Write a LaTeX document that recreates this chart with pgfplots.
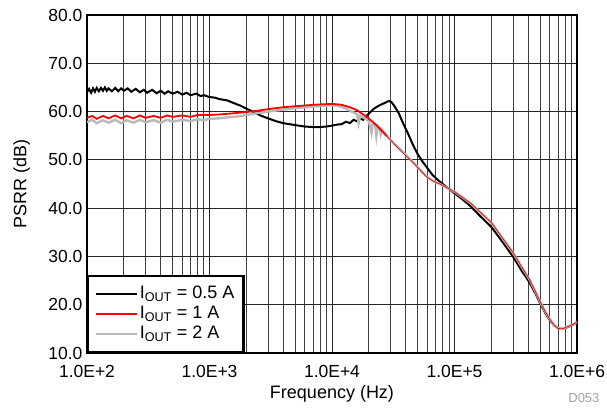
\documentclass[border=0pt]{standalone}
\usepackage{pgfplots}
\pgfplotsset{compat=1.18}
\usepackage{fontspec}
\setmainfont{Liberation Sans}
\definecolor{lgray}{RGB}{185,185,185}
\definecolor{dlabel}{RGB}{160,160,160}
\newcommand{\fs}{\fontsize{17.5}{20}\selectfont}
\newcommand{\fl}{\fontsize{18}{20}\selectfont}
\begin{document}
\begin{tikzpicture}[x=1pt,y=1pt]
\useasboundingbox (-87,-56) rectangle (520,353);
\begin{axis}[
  at={(0,0)}, anchor=south west,
  width=490pt, height=338pt, scale only axis,
  xmode=log, xmin=100, xmax=1000000, ymin=10, ymax=80,
  xtick={100,1000,10000,100000,1000000},
  xticklabels={1.0E+2,1.0E+3,1.0E+4,1.0E+5,1.0E+6},
  ytick={10,20,30,40,50,60,70,80},
  yticklabels={10.0,20.0,30.0,40.0,50.0,60.0,70.0,80.0},
  major tick length=0pt, minor tick length=0pt,
  xmajorgrids, xminorgrids, ymajorgrids,
  major grid style={black!85, line width=0.8pt},
  minor grid style={black!75, line width=0.8pt},
  axis line style={line width=2.4pt},
  ticklabel style={font=\fs},
  xticklabel style={yshift=-9pt},
  yticklabel style={xshift=-1pt},
  xlabel={Frequency (Hz)}, ylabel={PSRR (dB)},
  xlabel style={font=\fl, at={(axis description cs:0.5,-0.121)}, anchor=center},
  ylabel style={font=\fl, at={(axis description cs:-0.133,0.5)}, anchor=center, rotate=0},
  legend cell align=left,
  legend style={at={(0,0)}, anchor=south west, draw=black, line width=2.4pt, fill=white,
    font=\fl, row sep=0pt, inner xsep=7pt, inner ysep=8pt,
    nodes={inner sep=2pt, text height=13pt, text depth=3pt}},
  legend image code/.code={\draw[#1] (0pt,0pt) -- (34pt,0pt); \path (0pt,0pt) -- (41pt,0pt);},
  clip mode=individual,
]
\addlegendimage{black, line width=1.6pt}
\addlegendentry{I\textsubscript{OUT} = 0.5 A}
\addlegendimage{red, line width=1.6pt}
\addlegendentry{I\textsubscript{OUT} = 1 A}
\addlegendimage{lgray, line width=1.6pt}
\addlegendentry{I\textsubscript{OUT} = 2 A}

% I_OUT = 0.5 A (black)
\addplot[black, line width=2.0pt, forget plot] coordinates {
(100,64.0) (104,64.7) (108,63.9) (112,64.8) (116,64.1) (120,64.9) (125,64.2)
(130,64.9) (135,64.3) (140,65.0) (145,64.3) (150,64.8) (160,64.2) (170,64.9)
(180,64.2) (190,64.8) (200,64.3) (215,64.8) (230,64.1) (250,64.7) (270,64.0)
(290,64.5) (310,63.9) (340,64.5) (370,63.8) (400,64.3) (430,63.7) (460,64.2)
(500,63.7) (550,64.1) (600,63.5) (650,63.9) (700,63.4) (780,63.7) (850,63.2)
(900,63.4) (1000,63.0) (1100,62.9) (1200,62.6) (1400,62.3) (1600,61.7)
(1800,61.2) (2000,60.6) (2300,59.9) (2600,59.2) (3000,58.6) (3500,58.0)
(4000,57.6) (5000,57.2) (6000,56.9) (7000,56.8) (8000,56.8) (9000,56.9)
(10000,57.1) (11000,57.3) (12000,57.4) (13000,57.9) (14000,57.6) (15000,58.3)
(16000,58.0) (17000,58.6) (18000,58.3) (19000,59.0) (20000,59.6) (22000,60.6)
(24000,61.2) (27000,61.8) (29000,62.2) (30500,62.0) (32000,61.3) (35000,59.7)
(38000,57.6) (42000,55.3) (46000,53.0) (50000,51.2) (55000,49.6) (60000,48.3)
(66000,46.9) (72000,46.0) (80000,45.0) (90000,44.0) (100000,43.1)
(115000,41.9) (134000,40.5) (160000,38.5) (200000,36.1) (240000,33.4)
(300000,30.0) (350000,27.2) (410000,24.6) (460000,22.2) (500000,20.3)
(550000,18.3) (600000,16.8) (650000,15.7) (700000,15.1) (760000,15.0)
(830000,15.3) (920000,15.8) (1000000,16.4)
};
% I_OUT = 2 A (gray)
\addplot[lgray, line width=2.4pt, forget plot] coordinates {
(100,57.8) (110,58.3) (120,57.6) (135,58.2) (150,57.7) (170,58.3) (190,57.6)
(210,58.2) (240,57.7) (270,58.3) (300,57.8) (350,58.2) (400,57.7) (450,58.3)
(500,57.9) (600,58.3) (700,58.0) (800,58.4) (900,58.2) (1000,58.5) (1200,58.6)
(1400,58.8) (1700,59.0) (2000,59.3) (2500,59.7) (3000,60.0) (4000,60.4)
(5000,60.7) (6000,60.9) (7000,61.0) (8500,61.2) (10000,61.3) (11000,61.2)
(12000,61.0) (13000,60.6) (14000,60.2) (15000,59.8) (16000,59.5) (16500,57.6)
(17000,59.2) (18000,58.8) (19000,58.4) (20000,58.0) (21000,55.6) (21500,57.6)
(22500,57.2) (23000,55.0) (23500,57.0) (24500,56.6) (25000,55.4) (25500,56.3)
(28000,55.0) (32000,53.4) (36000,52.2) (41000,50.8) (46000,49.5) (52000,48.0)
(59000,46.6) (67000,45.6) (76000,45.0) (87000,44.2) (100000,43.4) (115000,42.3)
(134000,41.1) (160000,39.3) (200000,37.0) (240000,34.2) (300000,30.8)
(350000,28.0) (410000,25.2) (460000,22.6) (500000,20.6) (550000,18.6)
(600000,17.0) (650000,15.8) (700000,15.1) (760000,15.0) (830000,15.4)
(920000,15.9) (1000000,16.4)
};
% I_OUT = 1 A (red), low-frequency part
\addplot[red, line width=1.8pt, forget plot] coordinates {
(100,58.7) (110,59.1) (120,58.5) (135,59.1) (150,58.6) (170,59.2) (190,58.6)
(210,59.1) (240,58.6) (270,59.2) (300,58.7) (350,59.1) (400,58.7) (450,59.2)
(500,58.9) (600,59.2) (700,58.9) (800,59.3) (1000,59.3) (1200,59.4)
(1500,59.6) (2000,59.9) (2500,60.2) (3000,60.5) (4000,60.9) (5000,61.1)
(7000,61.4) (10000,61.6) (12000,61.4) (14000,60.9) (16000,60.3) (19000,59.0)
(23000,57.2) (28000,54.9)
};
% I_OUT = 1 A (red), high-frequency part (thin, inside the gray trace)
\addplot[red, line width=0.7pt, forget plot] coordinates {
(28000,54.9) (36000,52.0) (46000,49.4) (59000,46.5) (67000,45.6)
(76000,45.0) (87000,44.2) (100000,43.4) (115000,42.3) (134000,41.1)
(160000,39.3) (200000,37.0) (240000,34.2) (300000,30.8) (350000,28.0)
(410000,25.2) (460000,22.6) (500000,20.6) (550000,18.6) (600000,17.0)
(650000,15.8) (700000,15.1) (760000,15.0) (830000,15.4) (920000,15.9)
(1000000,16.4)
};
\node[anchor=east, font=\fontsize{13}{15}\selectfont, text=dlabel] at (axis description cs:1.053,-0.133) {D053};
\end{axis}
\end{tikzpicture}
\end{document}
